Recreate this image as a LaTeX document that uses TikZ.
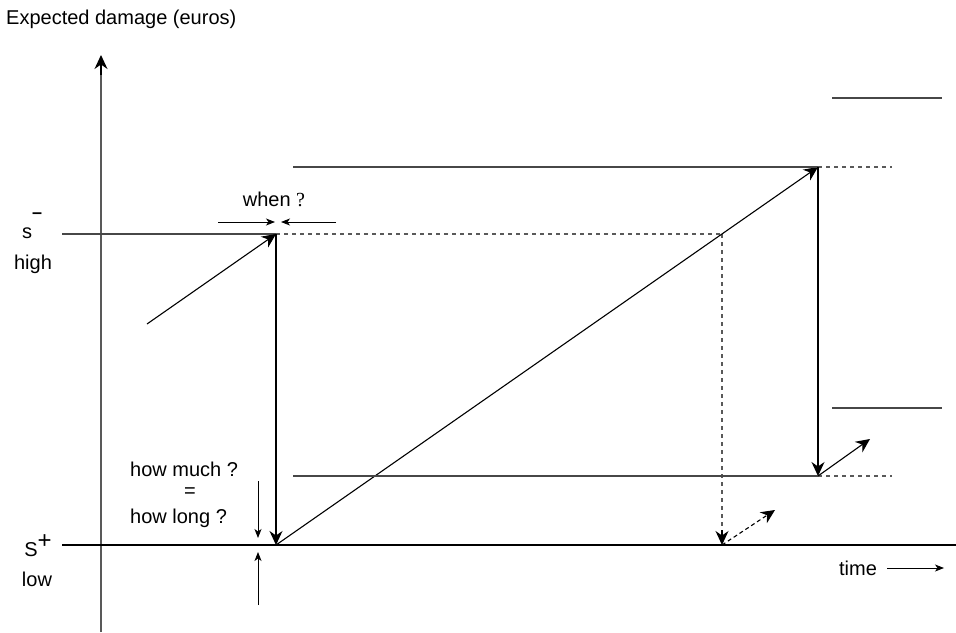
\documentclass[tikz,border=0pt]{standalone}
\usepackage{fontspec}
\setmainfont{Liberation Sans}
\newfontfamily\serifq{Liberation Serif}
\usetikzlibrary{arrows.meta}
\begin{document}
\begin{tikzpicture}[x=1pt,y=-1pt,
  ln/.style={draw=black!72,line width=1.2pt},
  dln/.style={draw=black!65,line width=1.2pt,dash pattern=on 4pt off 4pt},
  bigtip/.style={-{Stealth[length=14pt,width=13pt,inset=4.5pt]}},
  bigarr/.style={draw=black,line width=1.1pt,bigtip},
  smallarr/.style={draw=black,line width=0.9pt,-{Stealth[length=9pt,width=7pt,inset=2.5pt]}},
  lbl/.style={font=\fontsize{20}{23}\selectfont,inner sep=0pt}]
\useasboundingbox (0,0) rectangle (956,632);
% coordinates
\coordinate (axb) at (101,632);
\coordinate (axt) at (101,55);
\coordinate (spl) at (62,545);
\coordinate (spr) at (956,545);
\coordinate (sml) at (62,234);
\coordinate (A) at (276,234);
\coordinate (B) at (276,545);
\coordinate (D1) at (722,234);
\coordinate (D2) at (722,545);
\coordinate (C) at (818,167);
\coordinate (E) at (818,476);
\coordinate (tl) at (293,167);
\coordinate (tr) at (892,167);
\coordinate (ml) at (293,476);
\coordinate (mr) at (892,476);
\coordinate (Estart) at (147,324);
\coordinate (Eout) at (870,439);
\coordinate (Dout) at (775,510);
\coordinate (h1l) at (832,98);
\coordinate (h1r) at (942,98);
\coordinate (h2l) at (832,408);
\coordinate (h2r) at (942,408);
\coordinate (w1s) at (218,222);
\coordinate (w1e) at (275,222);
\coordinate (w2s) at (336,222);
\coordinate (w2e) at (281,222);
\coordinate (hm1s) at (258,481);
\coordinate (hm1e) at (258,538);
\coordinate (hm2s) at (258,605);
\coordinate (hm2e) at (258,552);
\coordinate (t1) at (887,568);
\coordinate (t2) at (944,568);
% axis
\draw[line width=1.2pt,draw=black!65] (axb) -- (101,68);
\draw[line width=1.2pt,black,bigtip] (101,75) -- (axt);
\draw[line width=1.2pt,black] (spl) -- (spr);
% lines
\draw[ln] (sml) -- (A);
\draw[dln] (A) -- (D1);
\draw[dln] (D1) -- (722,532);
\draw[black,line width=1.1pt,bigtip] (722,530) -- (D2);
\draw[bigarr] (A) -- (B);
\draw[bigarr] (Estart) -- (A);
\draw[bigarr] (B) -- (C);
\draw[ln] (tl) -- (C);
\draw[dln] (C) -- (tr);
\draw[bigarr] (C) -- (E);
\draw[ln] (ml) -- (E);
\draw[dln] (E) -- (mr);
\draw[bigarr] (E) -- (Eout);
\draw[bigarr,dash pattern=on 4pt off 3pt] (D2) -- (Dout);
\draw[ln] (h1l) -- (h1r);
\draw[ln] (h2l) -- (h2r);
\draw[smallarr] (w1s) -- (w1e);
\draw[smallarr] (w2s) -- (w2e);
\draw[smallarr] (hm1s) -- (hm1e);
\draw[smallarr] (hm2s) -- (hm2e);
\draw[smallarr] (t1) -- (t2);
% labels
\node[lbl,anchor=west] (title) at (6,19) {Expected damage (euros)};
\node[lbl] (when) at (274,199) {when {\serifq ?}};
\node[lbl,anchor=base west] (sminus) at (22,238) {s\raisebox{1.0em}{\bfseries\fontsize{18}{18}\selectfont –}};
\node[lbl] (high) at (33,264) {high};
\node[lbl,anchor=west] (hm) at (130,469) {how much ?};
\node[lbl] (eq) at (190,493) {=};
\node[lbl,anchor=west] (hl) at (130,518) {how long ?};
\node[lbl] (splus) at (38,546) {S\raisebox{0.4em}{\fontsize{24}{24}\selectfont +}};
\node[lbl] (low) at (37,579) {low};
\node[lbl] (time) at (858,568) {time};
\end{tikzpicture}
\end{document}
